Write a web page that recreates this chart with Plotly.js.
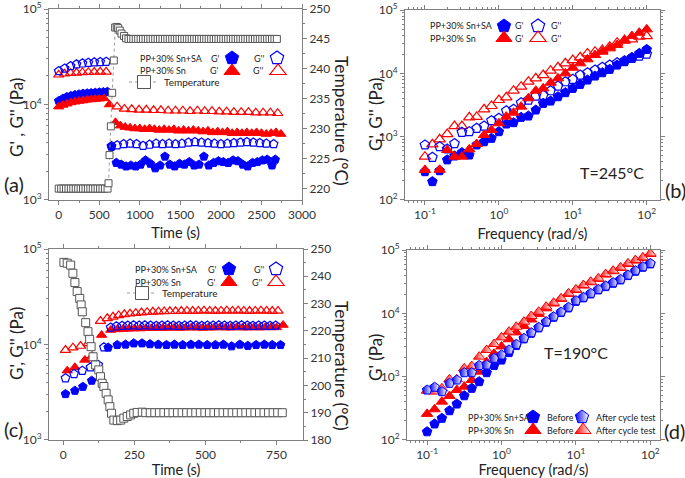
<!DOCTYPE html>
<html>
<head>
<meta charset="utf-8">
<script src="https://cdn.plot.ly/plotly-3.0.1.min.js"></script>
<style>
html, body { margin: 0; padding: 0; background: #fff; }
#chart { width: 685px; height: 478px; }
</style>
</head>
<body>
<div id="chart"></div>
<script>
// ---------- (a) time sweep, heated from 220 to 245 °C ----------
const aTempTime = [0,30,60,90,120,150,180,210,240,270,300,330,360,390,420,450,480,510,540,570,
  602,614,626,643,659,679,696,716,733,753,774,806,830,
  860,890,920,950,980,1010,1040,1070,1100,1130,1160,1190,1220,1250,1280,1310,1340,1370,1400,1430,
  1460,1490,1520,1550,1580,1610,1640,1670,1700,1730,1760,1790,1820,1850,1880,1910,1940,1970,2000,
  2030,2060,2090,2120,2150,2180,2210,2240,2270,2300,2330,2360,2390,2420,2450,2480,2510,2540,2570,
  2600,2630,2660,2690];
const aTemp = [220,220,220,220,220,220,220,220,220,220,220,220,220,220,220,220,220,220,220,220,
  220,220.9,225.6,230.4,236,241.4,246.9,247,246.8,246.4,245.9,245.5,245.1,
  245,245,245,245,245,245,245,245,245,245,245,245,245,245,245,245,245,245,245,245,245,
  245,245,245,245,245,245,245,245,245,245,245,245,245,245,245,245,245,245,245,245,245,
  245,245,245,245,245,245,245,245,245,245,245,245,245,245,245,245,245,245,245,245];

const aG1SATime = [0,50,100,150,200,250,300,350,400,450,500,550,600,
  650,710,770,830,890,950,1010,1070,1130,1190,1250,1310,1370,1430,1490,1550,1610,1670,1730,1790,
  1850,1910,1970,2030,2090,2150,2210,2270,2330,2390,2450,2510,2570,2630,2670];
const aG1SA = [10900,11500,12000,12300,12600,12800,13000,13100,13200,13300,13400,13500,13600,
  3600,2450,2350,2250,2300,2250,2350,2600,2400,2150,2300,2850,2350,2250,2400,2350,2500,2300,2350,2850,
  2300,2450,2550,2500,2450,2600,2550,2350,2250,2450,2500,2600,2650,2300,2650];

const aG2SATime = [0,73,146,219,292,365,438,511,585,
  651,720,800,880,960,1040,1120,1200,1280,1360,1440,1520,1600,1680,1760,1840,1920,2000,2080,2160,
  2240,2320,2400,2480,2560,2650];
const aG2SA = [22400,23900,25300,26400,27000,27400,27700,27900,28100,
  3670,3750,3850,3900,3850,3700,3800,3900,3850,3900,3850,3900,4000,4050,4000,3950,3900,3850,3900,3950,
  4000,4050,4000,3950,3900,3850];

const aG1SnTime = [0,50,100,150,200,250,300,350,400,450,500,560,625,
  700,760,820,880,940,1000,1060,1120,1180,1240,1300,1360,1420,1480,1540,1600,1660,1720,1780,1840,
  1900,1960,2020,2080,2140,2200,2260,2320,2380,2440,2500,2560,2620,2680,2740];
const aG1Sn = [9500,9900,10200,10500,10700,10900,11000,11200,11300,11400,11500,11600,10000,
  6500,6000,5800,5700,5600,5600,5500,5600,5500,5400,5500,5400,5500,5300,5400,5300,5400,5300,5200,
  5300,5100,5200,5100,5200,5000,5100,5000,5100,5000,5100,5000,4900,5000,5100,4900];

const aG2SnTime = [0,73,146,219,292,365,438,511,585,
  720,810,900,990,1080,1170,1260,1350,1440,1530,1620,1710,1800,1890,1980,2070,2160,2250,2340,2430,
  2520,2610,2700];
const aG2Sn = [20500,21000,21300,21500,21700,21800,21900,22000,22000,
  9500,9000,8900,8800,8800,8700,8700,8600,8600,8600,8500,8600,8500,8500,8400,8400,8300,8300,8300,8200,
  8200,8200,8100];

// ---------- (b) frequency sweep at 245 °C ----------
const freq = [0.1,0.126,0.158,0.2,0.251,0.316,0.398,0.501,0.631,0.794,1,1.26,1.58,2,2.51,3.16,3.98,5.01,
  6.31,7.94,10,12.6,15.8,20,25.1,31.6,39.8,50.1,63.1,79.4,100];
const bG1SA = [280,195,290,430,495,560,513,740,833,942,1200,1585,1665,2020,2120,2635,3360,3655,4280,4960,
  5800,6700,7850,9080,10250,11570,13540,15290,17900,20700,23900];
const bG2SA = [740,472,695,640,780,1170,1200,1355,1470,1790,1950,2570,2700,3440,3790,4390,4500,5320,6310,
  7380,8040,9410,10240,11300,12450,13540,14730,15830,17260,18780,20200];
const bG1Sn = [298,null,300,615,483,483,630,765,1060,1275,1625,2070,2390,2980,4030,5320,5800,7120,8340,
  10000,12270,14400,16650,19450,21960,24830,28010,32810,38860,43840,49560];
const bG2Sn = [483,757,908,1100,1470,1470,2020,2050,2700,3050,3790,4180,5320,6150,7380,8340,9410,11010,
  12450,14400,16230,17900,20700,22000,23360,26360,30480,33600,34480,37950,38860];

// ---------- (c) time sweep, cooled from 245 to 190 °C ----------
const cTempTime = [2.5,14,26,34,41,49,58,63,67,79,87,93,98,105,114,125,131,137,143,151,158,164,170,178,
  190,202,213,225,237,248,260,278,
  290,306,322,338,354,370,386,402,418,434,450,466,482,498,514,530,546,562,578,594,610,626,642,658,
  674,690,706,722,738,754,770];
const cTemp = [245.1,244.8,244.1,241.1,237.7,234.4,231.9,229.5,227.0,223.0,219.7,216.9,214.2,210.5,207.5,
  205.7,203.2,200.8,199.6,197.1,194.7,192.2,189.8,187.3,187.1,187.3,188.0,188.6,189.2,189.8,190.1,190.2,
  190,190,190,190,190,190,190,190,190,190,190,190,190,190,190,190,190,190,190,190,190,190,190,190,
  190,190,190,190,190,190,190];

const cG1SATime = [8,41,69,100,131,158,190,219,248,277,305,334,363,391,420,449,477,506,535,563,592,621,
  649,678,707,735,764];
const cG1SA = [3030,3280,3610,4180,4530,9300,9900,10000,10300,10300,10100,10000,9900,10000,9900,10000,
  10000,9900,9900,10000,9600,10000,9700,9900,10000,9900,9900];

const cG2SATime = [8,38,67,96,123,143,167,187,207,227,247,267,287,307,327,347,367,387,407,427,447,467,
  487,507,527,547,567,587,607,627,647,667,687,707,727,747];
const cG2SA = [4430,4910,5320,5770,6100,9350,15100,15500,15700,15800,15900,15800,15900,15800,15700,15800,
  15900,15800,15700,15800,15900,15800,15700,15800,15800,15900,15800,15700,15800,15900,15800,15700,
  15800,15800,15700,15800];

const cG1SnTime = [14,41,76,102,135,167,190,210,230,250,270,290,310,330,350,370,390,410,430,450,470,490,
  510,530,550,570,590,610,630,650,670,690,710,730,750,773];
const cG1Sn = [5320,5770,6890,7590,12570,14200,14400,14500,14600,14700,14700,14800,14800,14900,14900,
  14900,15000,14900,15000,15000,15000,14900,15000,15000,15100,15000,15000,15100,15000,15000,15100,
  15000,15100,15100,15100,16000];

const cG2SnTime = [8,34,61,88,131,155,175,195,215,235,255,275,295,315,335,355,375,395,415,435,455,475,
  495,515,535,555,575,595,615,635,655,675,695,715,735,755];
const cG2Sn = [8750,9270,9640,10300,17620,18800,19500,20200,20700,21000,21300,21600,21800,22000,22100,
  22200,22300,22300,22400,22500,22400,22500,22600,22500,22400,22500,22600,22500,22600,22500,22400,
  22500,22600,22500,22400,22500];

// ---------- (d) G' at 190 °C before / after the cycle test ----------
const dSABefore = [135,179,220,290,370,500,655,834,1157,1500,1830,2400,3100,3950,4850,5900,7250,8700,
  10300,12200,15500,17600,20300,23500,26500,30000,33800,39600,46400,53700,60500];
const dSAAfter = [615,680,580,785,885,1155,1155,1500,1530,1950,2200,2640,3240,4030,4950,6010,7380,8850,
  10500,12450,15850,17900,20700,23900,27000,30500,34400,40300,47200,54600,61500];
const dSnBefore = [258,305,403,495,615,695,885,1200,1700,2300,3000,3900,5000,6300,8000,9800,12000,14300,
  16900,20300,23400,27500,31000,35000,41000,46300,52200,60300,68100,75100,86700];
const dSnAfter = [600,580,655,908,908,1355,1470,2070,2640,3280,4180,5140,6150,7380,9080,10620,12740,14720,
  17260,20700,23900,28010,31600,35700,41800,47200,53200,61500,69500,76600,88500];

// ---------- tick labels ----------
const modTicks = [100, 1000, 10000, 100000];
const modTickText = ['10<sup>2</sup>', '10<sup>3</sup>', '10<sup>4</sup>', '10<sup>5</sup>'];
const freqTicks = [0.1, 1, 10, 100];
const freqTickText = ['10<sup>-1</sup>', '10<sup>0</sup>', '10<sup>1</sup>', '10<sup>2</sup>'];

// ---------- styling ----------
const W = 685, H = 478;
const FONT = 'Lato, sans-serif';
const BLUE = '#0000ff', RED = '#ff0000', GREY = '#555555';
const KEY_DX = 20;
const LEG = 9;   // legend text size

const traces = [];
const annotations = [];
const layout = {
  width: W, height: H,
  margin: {l: 0, r: 0, t: 0, b: 0},
  paper_bgcolor: '#fff', plot_bgcolor: 'rgba(0,0,0,0)',
  font: {family: FONT, color: '#222'},
  showlegend: true,
  annotations: annotations
};

function series(x, y, xa, ya, symbol, color, size) {
  const m = {symbol: symbol, size: size, color: color, line: {color: color, width: 1}};
  if (symbol.endsWith('-open')) m.line.width = 1.2;
  return {type: 'scatter', mode: 'markers', x: x, y: y, xaxis: xa, yaxis: ya,
    marker: m, showlegend: false, hoverinfo: 'skip'};
}

function tempSeries(x, y, xa, ya, size) {
  return {type: 'scatter', mode: 'lines+markers', x: x, y: y, xaxis: xa, yaxis: ya,
    line: {color: '#999', width: 1, dash: 'dot'},
    marker: {symbol: 'square', size: size, color: '#fff', line: {color: GREY, width: 1}},
    showlegend: false, hoverinfo: 'skip'};
}

let nLegend = 0;
function key(cx, cy, name, mode, marker, line) {
  nLegend++;
  const id = nLegend === 1 ? 'legend' : 'legend' + nLegend;
  traces.push({type: 'scatter', x: [null], y: [null], mode: mode, name: name, legend: id,
    showlegend: true, marker: marker, line: line || {width: 0}, hoverinfo: 'skip'});
  layout[id] = {x: (cx - KEY_DX) / W, y: 1 - cy / H, xanchor: 'left', yanchor: 'middle',
    orientation: 'h', bgcolor: 'rgba(0,0,0,0)', itemsizing: 'trace', itemwidth: 30,
    font: {family: FONT, size: LEG + 1, color: '#222'}};
}

function note(text, x, y, size, xanchor, extra) {
  annotations.push(Object.assign({text: text, x: x / W, y: 1 - y / H, xref: 'paper', yref: 'paper',
    xanchor: xanchor || 'center', yanchor: 'middle', showarrow: false,
    font: {family: FONT, size: size, color: '#222'}}, extra || {}));
}

const baseAxis = {showline: true, linecolor: '#808080', linewidth: 1, ticks: 'outside', ticklen: 4,
  tickcolor: '#808080', showgrid: false, zeroline: false,
  tickfont: {family: FONT, size: 12, color: '#333'}};
const xTitleFont = {family: FONT, size: 14.5, color: '#222'};
const logMinor = {ticks: 'outside', ticklen: 2, tickcolor: '#808080', dtick: 'D1', showgrid: false};

function axis(extra) { return Object.assign({}, baseAxis, extra); }
function modAxis(extra) {
  return axis(Object.assign({type: 'log', tickmode: 'array', tickvals: modTicks, ticktext: modTickText,
    minor: logMinor}, extra));
}
function freqAxis(extra) {
  return axis(Object.assign({type: 'log', tickmode: 'array', tickvals: freqTicks, ticktext: freqTickText,
    minor: logMinor, mirror: 'ticks'}, extra));
}

// ---------- (a) ----------
traces.push(series(aG2SnTime, aG2Sn, 'x', 'y', 'triangle-up-open', RED, 9));
traces.push(series(aG2SATime, aG2SA, 'x', 'y', 'pentagon-open', BLUE, 9));
traces.push(series(aG1SATime, aG1SA, 'x', 'y', 'pentagon', BLUE, 9));
traces.push(series(aG1SnTime, aG1Sn, 'x', 'y', 'triangle-up', RED, 9));
traces.push(tempSeries(aTempTime, aTemp, 'x', 'y2', 7));

layout.xaxis = axis({domain: [49 / W, 302 / W], anchor: 'y', range: [-120, 3000], dtick: 500, tick0: 0,
  mirror: 'ticks', minor: {ticks: 'outside', ticklen: 2, tickcolor: '#808080', dtick: 250},
  title: {text: 'Time (s)', font: xTitleFont, standoff: 6}});
layout.yaxis = modAxis({domain: [1 - 200 / H, 1 - 9 / H], anchor: 'x', range: [2.999, 5.001]});
layout.yaxis2 = axis({overlaying: 'y', side: 'right', anchor: 'x', range: [218.1, 250], dtick: 5, tick0: 220,
  minor: {ticks: 'outside', ticklen: 2, tickcolor: '#808080', dtick: 2.5}});

// ---------- (b) ----------
traces.push(series(freq, bG2Sn, 'x2', 'y3', 'triangle-up-open', RED, 10));
traces.push(series(freq, bG2SA, 'x2', 'y3', 'pentagon-open', BLUE, 10));
traces.push(series(freq, bG1SA, 'x2', 'y3', 'pentagon', BLUE, 10));
traces.push(series(freq, bG1Sn, 'x2', 'y3', 'triangle-up', RED, 10));

layout.xaxis2 = freqAxis({domain: [405 / W, 660 / W], anchor: 'y3', range: [-1.27, 2.18],
  title: {text: 'Frequency (rad/s)', font: xTitleFont, standoff: 7}});
layout.yaxis3 = modAxis({domain: [1 - 200 / H, 1 - 10 / H], anchor: 'x2', range: [1.999, 5.001],
  mirror: 'ticks'});

// ---------- (c) ----------
traces.push(series(cG2SnTime, cG2Sn, 'x3', 'y4', 'triangle-up-open', RED, 9));
traces.push(series(cG1SnTime, cG1Sn, 'x3', 'y4', 'triangle-up', RED, 9));
traces.push(series(cG2SATime, cG2SA, 'x3', 'y4', 'pentagon-open', BLUE, 9));
traces.push(series(cG1SATime, cG1SA, 'x3', 'y4', 'pentagon', BLUE, 9));
traces.push(tempSeries(cTempTime, cTemp, 'x3', 'y5', 8));

layout.xaxis3 = axis({domain: [49 / W, 303 / W], anchor: 'y4', range: [-50, 843], dtick: 250, tick0: 0,
  mirror: 'ticks', minor: {ticks: 'outside', ticklen: 2, tickcolor: '#808080', dtick: 125},
  title: {text: 'Time (s)', font: xTitleFont, standoff: 6}});
layout.yaxis4 = modAxis({domain: [1 - 440 / H, 1 - 249 / H], anchor: 'x3', range: [2.999, 5.001]});
layout.yaxis5 = axis({overlaying: 'y4', side: 'right', anchor: 'x3', range: [180, 250], dtick: 10, tick0: 180,
  minor: {ticks: 'outside', ticklen: 2, tickcolor: '#808080', dtick: 5}});

// ---------- (d) ----------
const halfBlue = {type: 'horizontal', color: '#ffffff'};
traces.push(series(freq, dSnBefore, 'x4', 'y6', 'triangle-up', RED, 10));
traces.push(series(freq, dSABefore, 'x4', 'y6', 'pentagon', BLUE, 10));
traces.push(series(freq, dSnAfter, 'x4', 'y6', 'triangle-up', RED, 10));
traces[traces.length - 1].marker.gradient = halfBlue;
traces.push(series(freq, dSAAfter, 'x4', 'y6', 'pentagon', BLUE, 10));
traces[traces.length - 1].marker.gradient = halfBlue;

layout.xaxis4 = freqAxis({domain: [407 / W, 660 / W], anchor: 'y6', range: [-1.27, 2.13],
  title: {text: 'Frequency (rad/s)', font: xTitleFont, standoff: 7}});
layout.yaxis6 = modAxis({domain: [1 - 440 / H, 1 - 250 / H], anchor: 'x4', range: [1.999, 5.001],
  mirror: 'ticks'});

// ---------- legend keys (symbols) and their texts ----------
const KS = 14;
const fillPent = c => ({symbol: 'pentagon', size: KS, color: c, line: {color: c, width: 1}});
const openPent = c => ({symbol: 'pentagon-open', size: KS, color: c, line: {color: c, width: 1.2}});
const fillTri = c => ({symbol: 'triangle-up', size: KS, color: c, line: {color: c, width: 1}});
const openTri = c => ({symbol: 'triangle-up-open', size: KS, color: c, line: {color: c, width: 1.2}});
const tempKey = {symbol: 'square', size: 13, color: '#fff', line: {color: GREY, width: 1}};
const tempLine = {color: '#999', width: 1, dash: 'dot'};

// (a)
key(232, 58, ' ', 'markers', fillPent(BLUE));
key(277, 58, ' ', 'markers', openPent(BLUE));
key(232, 71, ' ', 'markers', fillTri(RED));
key(278, 71, ' ', 'markers', openTri(RED));
key(144, 82, 'Temperature', 'lines+markers', tempKey, tempLine);
note('PP+30% Sn+SA', 138, 58, LEG, 'left');
note('PP+30% Sn', 138, 71, LEG, 'left');
note("G'", 215, 58, LEG); note("G''", 259, 58, LEG);
note("G'", 214, 71, LEG); note("G''", 258, 71, LEG);

// (b)
key(504, 26, ' ', 'markers', fillPent(BLUE));
key(538, 26, ' ', 'markers', openPent(BLUE));
key(504, 38, ' ', 'markers', fillTri(RED));
key(538, 38, ' ', 'markers', openTri(RED));
note('PP+30% Sn+SA', 428, 26, LEG, 'left');
note('PP+30% Sn', 428, 38, LEG, 'left');
note("G'", 513, 26, LEG, 'left'); note("G''", 549, 26, LEG, 'left');
note("G'", 513, 38, LEG, 'left'); note("G''", 549, 38, LEG, 'left');

// (c)
key(229, 269, ' ', 'markers', fillPent(BLUE));
key(276, 269, ' ', 'markers', openPent(BLUE));
key(229, 282, ' ', 'markers', fillTri(RED));
key(276, 282, ' ', 'markers', openTri(RED));
key(142, 293, 'Temperature', 'lines+markers', tempKey, tempLine);
note('PP+30% Sn+SA', 133, 269, LEG, 'left');
note('PP+30% Sn', 133, 282, LEG, 'left');
note("G'", 212, 269, LEG); note("G''", 259, 269, LEG);
note("G'", 211, 282, LEG); note("G''", 257, 282, LEG);

// (d)
key(533, 417, ' ', 'markers', fillPent(BLUE));
key(582, 417, ' ', 'markers', Object.assign(fillPent(BLUE), {gradient: halfBlue}));
key(533, 430, ' ', 'markers', fillTri(RED));
key(583, 430, ' ', 'markers', Object.assign(fillTri(RED), {gradient: halfBlue}));
note('PP+30% Sn+SA', 466, 417, LEG, 'left');
note('PP+30% Sn', 466, 430, LEG, 'left');
note('Before', 545, 417, LEG, 'left'); note('After cycle test', 594, 417, LEG, 'left');
note('Before', 545, 430, LEG, 'left'); note('After cycle test', 594, 430, LEG, 'left');

// axis titles of the modulus axes, and the right-hand temperature axes (read top to bottom)
note("G' , G'' (Pa)", 16, 118, 17, 'center', {textangle: -90});
note("G', G'' (Pa)", 375, 115, 17, 'center', {textangle: -90});
note("G', G'' (Pa)", 16, 344, 17, 'center', {textangle: -90});
note("G' (Pa)", 375, 358, 17, 'center', {textangle: -90});
note('Temperature (°C)', 341, 121, 17.5, 'center', {textangle: 90});
note('Temperature (°C)', 342, 366, 17.5, 'center', {textangle: 90});

// panel letters and temperatures
note('(a)', 14, 184, 20); note('(b)', 675, 190, 20);
note('(c)', 13, 429, 20); note('(d)', 674, 431, 20);
note('T=245°C', 612, 173, 16); note('T=190°C', 576, 352, 16);

Plotly.newPlot('chart', traces, layout, {staticPlot: true, displayModeBar: false});
</script>
</body>
</html>
